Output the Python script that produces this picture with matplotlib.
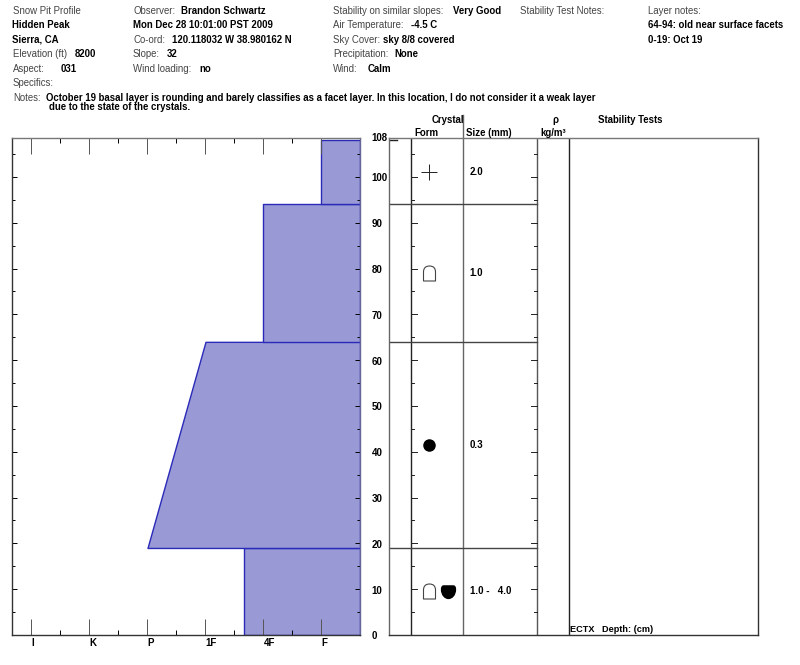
"""
Snow pit profile: hand hardness layers with the crystal table next to them.
"""
import matplotlib
matplotlib.use("Agg")
import matplotlib.pyplot as plt
from matplotlib.path import Path

plt.rcParams["font.family"] = ["Liberation Sans", "DejaVu Sans"]

# --- LAYER DATA --- #
layer_bottom = [0, 19, 64, 94]
layer_top = [19, 64, 94, 108]
hardness_bottom = [3.66, 2.0, 4.0, 5.0]
hardness_top = [3.66, 3.0, 4.0, 5.0]
crystal_size = ["1.0 -   4.0", "0.3", "1.0", "2.0"]

hardness_labels = ["I", "K", "P", "1F", "4F", "F"]
depth_ticks = [0, 10, 20, 30, 40, 50, 60, 70, 80, 90, 100]

# --- HEADER TEXT: (x pixel, y pixel, text, bold) --- #
header_text = [
    (13, 11, "Snow Pit Profile", False),
    (12, 25, "Hidden Peak", True),
    (12, 40, "Sierra, CA", True),
    (13, 54, "Elevation (ft)", False),
    (75, 54, "8200", True),
    (13, 69, "Aspect:", False),
    (61, 69, "031", True),
    (13, 83, "Specifics:", False),
    (133, 11, "Observer:", False),
    (181, 11, "Brandon Schwartz", True),
    (133, 25, "Mon Dec 28 10:01:00 PST 2009", True),
    (133, 40, "Co-ord:", False),
    (172, 40, "120.118032 W 38.980162 N", True),
    (133, 54, "Slope:", False),
    (167, 54, "32", True),
    (133, 69, "Wind loading:", False),
    (199, 69, "no", True),
    (333, 11, "Stability on similar slopes:", False),
    (453, 11, "Very Good", True),
    (333, 25, "Air Temperature:", False),
    (411, 25, "-4.5 C", True),
    (333, 40, "Sky Cover:", False),
    (383, 40, "sky 8/8 covered", True),
    (333, 54, "Precipitation:", False),
    (394, 54, "None", True),
    (333, 69, "Wind:", False),
    (368, 69, "Calm", True),
    (520, 11, "Stability Test Notes:", False),
    (648, 11, "Layer notes:", False),
    (648, 25, "64-94: old near surface facets", True),
    (648, 40, "0-19: Oct 19", True),
    (13, 98, "Notes:", False),
    (46, 98, "October 19 basal layer is rounding and barely classifies as a facet layer. In this location, I do not consider it a weak layer", True),
    (49, 107.5, "due to the state of the crystals.", True),
    (432, 120, "Crystal", True),
    (414, 133, "Form", True),
    (466, 133, "Size (mm)", True),
    (552, 120, "\u03c1", True),
    (540, 133, "kg/m\u00b3", True),
    (598, 120, "Stability Tests", True),
]

FILL = "#9999d6"
EDGE = "#2a2ab8"
W, H = 800, 665
DEPTH_TOP = 108.5


def pixel_axes(left, top, right, bottom):
    return fig.add_axes([left / W, 1 - bottom / H, (right - left) / W, (bottom - top) / H])


fig = plt.figure(figsize=(8.0, 6.65), dpi=100)

for x, y, label, bold in header_text:
    fig.text(x / W, 1 - y / H, label, fontsize=6.9, va="center",
             fontweight="bold" if bold else "normal",
             color="#000000" if bold else "#444444")

# --- HARDNESS PANEL --- #
ax = pixel_axes(12, 138, 360, 635)
ax.set_xlim(-0.336, 5.664)
ax.set_ylim(0, DEPTH_TOP)
for b, t, hb, ht in zip(layer_bottom, layer_top, hardness_bottom, hardness_top):
    ax.fill_betweenx([b, t], [hb, ht], 5.664, facecolor=FILL, edgecolor=EDGE, linewidth=1)

ax.set_xticks(range(6))
ax.set_xticklabels(hardness_labels, fontsize=7, fontweight="bold", ha="left")
ax.set_xticks([0.5, 1.5, 2.5, 3.5, 4.5], minor=True)
ax.set_yticks(depth_ticks)
ax.set_yticks(range(5, 108, 10), minor=True)
ax.set_yticklabels([])
ax.tick_params(axis="x", which="major", direction="in", top=True, length=11.5, width=0.7,
               color="#555555", pad=2)
ax.tick_params(axis="x", which="minor", direction="in", top=True, length=3.5, width=0.7)
ax.tick_params(axis="y", which="major", direction="in", right=True, length=3.6, width=0.7)
ax.tick_params(axis="y", which="minor", direction="in", right=True, length=2.2, width=0.7)
for spine in ax.spines.values():
    spine.set_linewidth(1)
    spine.set_color("#333333")
ax.spines["right"].set_color("#666699")
ax.spines["top"].set_color("#777777")

# --- CRYSTAL TABLE, X IN PIXELS --- #
tb = pixel_axes(389, 138, 758, 635)
tb.set_xlim(389, 758)
tb.set_ylim(0, DEPTH_TOP)
tb.set_xticks([])
tb.set_yticks([])
for spine in tb.spines.values():
    spine.set_linewidth(1)
    spine.set_color("#333333")
tb.spines["top"].set_color("#777777")
tb.spines["left"].set_color("#666666")

for col, color in zip([411, 463, 537, 569], ["#222222", "#666666", "#555555", "#222222"]):
    tb.axvline(col, color=color, linewidth=1)
tb.plot([463, 463], [DEPTH_TOP, 113.5], color="#666666", linewidth=1, clip_on=False)

# layer boundaries across the form and size columns
for d in layer_bottom[1:]:
    tb.plot([389, 537], [d, d], color="#444444", linewidth=1)

# ticks on the form and density columns
for d in depth_ticks:
    tb.plot([411, 417], [d, d], color="#222222", linewidth=0.7)
    tb.plot([531, 537], [d, d], color="#222222", linewidth=0.7)
    tb.text(371.5, d - 0.3, str(d), fontsize=7, fontweight="bold", va="center", ha="left", clip_on=False)
for d in range(5, 108, 10):
    tb.plot([411, 414], [d, d], color="#222222", linewidth=0.7)
    tb.plot([534, 537], [d, d], color="#222222", linewidth=0.7)
tb.plot([389, 397], [108, 108], color="#222222", linewidth=1)
tb.text(371.5, 108.4, "108", fontsize=7, fontweight="bold", va="center", ha="left", clip_on=False)

# --- GRAIN SYMBOLS --- #
cup = Path([(-0.8, -1), (-0.8, 0.2), (-0.8, 1), (0, 1), (0.8, 1), (0.8, 0.2), (0.8, -1), (-0.8, -1)],
           [Path.MOVETO, Path.LINETO, Path.CURVE3, Path.CURVE3, Path.CURVE3, Path.CURVE3, Path.LINETO, Path.CLOSEPOLY])
half = Path([(-0.7, 0.8), (0.7, 0.8), (1, 0.8), (1, 0.3), (1, -0.5), (0.5, -1), (0, -1),
             (-0.5, -1), (-1, -0.5), (-1, 0.3), (-1, 0.8), (-0.7, 0.8), (-0.7, 0.8)],
            [Path.MOVETO, Path.LINETO, Path.CURVE3, Path.CURVE3, Path.CURVE4, Path.CURVE4, Path.CURVE4,
             Path.CURVE4, Path.CURVE4, Path.CURVE4, Path.CURVE3, Path.CURVE3, Path.CLOSEPOLY])

mid = [(b + t) / 2 for b, t in zip(layer_bottom, layer_top)]
tb.plot(428.5, mid[3], marker="+", markersize=11.5, markeredgewidth=0.7, color="#222222")
tb.plot(428.5, mid[2], marker=cup, markersize=10.8, markerfacecolor="white", markeredgecolor="#444444", markeredgewidth=0.8)
tb.plot(428.5, mid[1], marker="o", markersize=8, color="black")
tb.plot(428.5, mid[0], marker=cup, markersize=10.8, markerfacecolor="white", markeredgecolor="#444444", markeredgewidth=0.8)
tb.plot(447.5, mid[0], marker=half, markersize=10, color="black")

for m, size in zip(mid, crystal_size):
    tb.text(469.5, m, size, fontsize=7, fontweight="bold", va="center")

tb.text(570.5, 1.1, "ECTX   Depth: (cm)", fontsize=6.6, fontweight="bold", va="center")

fig.savefig("out.png", dpi=100)
